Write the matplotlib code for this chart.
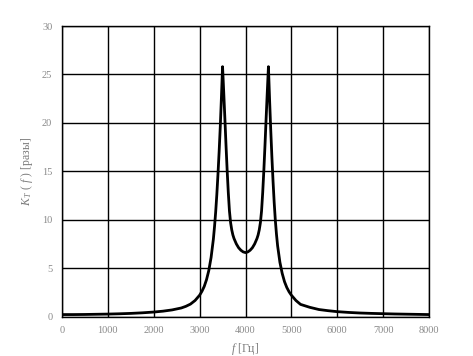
import matplotlib
matplotlib.use("Agg")
import matplotlib.pyplot as plt

# Frequency (Hz) and K_T values
freq = [0, 250, 500, 750, 1000, 1250, 1500, 1750, 2000, 2200, 2400, 2600, 2700,
        2800, 2900, 3000, 3050, 3100, 3150, 3200, 3250, 3300, 3325, 3350, 3375,
        3400, 3425, 3450, 3475, 3500, 3525, 3550, 3575, 3600, 3625, 3650, 3675,
        3700, 3725, 3750, 3800, 3850, 3900, 3950, 4000, 4050, 4100, 4150, 4200,
        4250, 4275, 4300, 4325, 4350, 4375, 4400, 4425, 4450, 4475, 4500, 4525,
        4550, 4575, 4600, 4625, 4650, 4675, 4700, 4750, 4800, 4850, 4900, 4950,
        5000, 5100, 5200, 5400, 5600, 5800, 6000, 6250, 6500, 6750, 7000, 7250,
        7500, 7750, 8000]
k_t = [0.20, 0.20, 0.21, 0.23, 0.25, 0.28, 0.32, 0.38, 0.46, 0.55, 0.68, 0.88, 1.05,
       1.28, 1.65, 2.20, 2.60, 3.10, 3.80, 4.75, 6.10, 8.00, 9.30, 10.8, 12.6,
       14.7, 17.0, 19.6, 22.6, 25.8, 23.2, 20.5, 17.7, 15.1, 12.8, 10.9, 9.70,
       8.95, 8.42, 8.05, 7.50, 7.10, 6.84, 6.67, 6.60, 6.67, 6.84, 7.10, 7.50,
       8.05, 8.42, 8.95, 9.70, 10.9, 12.8, 15.1, 17.7, 20.5, 23.2, 25.8, 22.4,
       19.3, 16.5, 14.0, 11.8, 9.95, 8.50, 7.30, 5.60, 4.45, 3.60, 3.00, 2.55,
       2.20, 1.65, 1.25, 0.95, 0.72, 0.60, 0.50, 0.42, 0.36, 0.32, 0.29, 0.26,
       0.24, 0.22, 0.20]

x_ticks = [0, 1000, 2000, 3000, 4000, 5000, 6000, 7000, 8000]
y_ticks = [0, 5, 10, 15, 20, 25, 30]

plt.rcParams['font.family'] = ['Liberation Serif', 'DejaVu Serif']
plt.rcParams['mathtext.fontset'] = 'custom'
plt.rcParams['mathtext.rm'] = 'Liberation Serif'
plt.rcParams['mathtext.it'] = 'Liberation Serif:italic'

fig = plt.figure(figsize=(4.73, 3.56), dpi=100)
ax = fig.add_axes([62/473, 1 - 316.5/356, (429-62)/473, (316.5-26)/356])

ax.plot(freq, k_t, color='black', linewidth=2.0, solid_joinstyle='round', zorder=3)

ax.set_xlim(0, 8000)
ax.set_ylim(0, 30)
ax.set_xticks(x_ticks)
ax.set_yticks(y_ticks)
ax.grid(True, color='black', linewidth=1.0)
ax.tick_params(length=0, labelsize=7.5, labelcolor='#8a8a8a', pad=7)
for s in ax.spines.values():
    s.set_color('black')
    s.set_linewidth(1.0)

ax.set_xlabel('$f$ [Гц]', fontsize=8.5, color='#7a7a7a', labelpad=4)
ax.set_ylabel('$K_{\\,T}$ ( $f$ ) [разы]', fontsize=8.5, color='#7a7a7a', labelpad=5)

fig.savefig('out.png', dpi=100)
